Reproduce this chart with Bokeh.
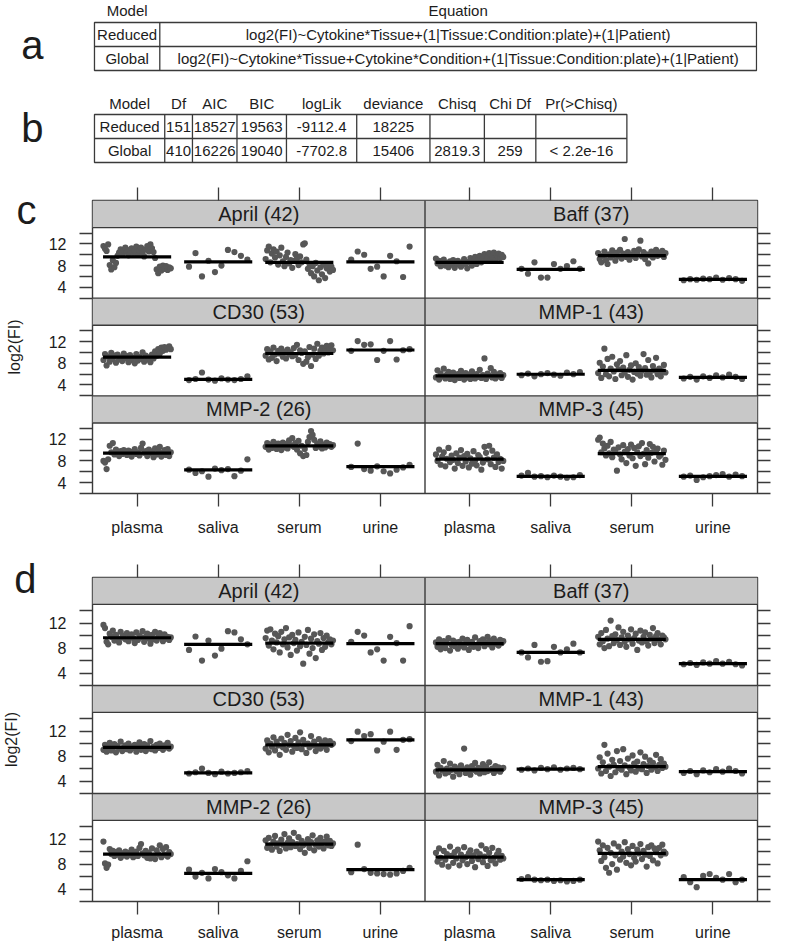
import math
from bokeh.plotting import figure
from bokeh.layouts import column
from bokeh.models import Range1d, LinearAxis, FixedTicker
from bokeh.core.properties import value
from bokeh.embed import file_html
from bokeh.resources import INLINE

FONT = "Liberation Sans"
TXT = "#1c1c1c"
LINE = "#3a3a3a"
DOT = "#575757"
STRIP = "#c8c8c8"

# ---------------- table data ----------------
eq_models = ["Reduced", "Global"]
eq_formulas = ["log2(FI)~Cytokine*Tissue+(1|Tissue:Condition:plate)+(1|Patient)",
               "log2(FI)~Cytokine*Tissue+Cytokine*Condition+(1|Tissue:Condition:plate)+(1|Patient)"]
anova_header = ["Model", "Df", "AIC", "BIC", "logLik", "deviance", "Chisq", "Chi Df", "Pr(>Chisq)"]
anova_reduced = ["Reduced", "151", "18527", "19563", "-9112.4", "18225", "", "", ""]
anova_global = ["Global", "410", "16226", "19040", "-7702.8", "15406", "2819.3", "259", "< 2.2e-16"]

tissues = ["plasma", "saliva", "serum", "urine"]
cytokines = ["April (42)", "Baff (37)", "CD30 (53)", "MMP-1 (43)", "MMP-2 (26)", "MMP-3 (45)"]

# ---------------- panel c data ----------------
c_april_plasma = [11.6, 11.1, 10.7, 11.9, 8.1, 7.3, 9.0, 7.7, 8.5, 9.8, 10.4, 11.0, 10.1, 10.8, 11.3, 10.5, 9.9, 10.9, 11.2, 10.3, 10.7, 11.5, 10.0, 10.8, 11.3, 10.4, 9.7, 11.0, 11.6, 10.6, 11.9, 11.2, 10.5, 9.4, 7.3, 6.6, 7.8, 7.1, 8.0, 7.4, 7.9, 7.2, 7.7, 7.5]
c_april_saliva = [7.8, 10.3, 6.0, 8.9, 6.8, 8.0, 10.9, 10.5, 9.8, 9.1]
c_april_serum = [9.2, 10.8, 11.5, 8.6, 10.2, 11.0, 9.5, 10.6, 8.2, 9.9, 11.3, 8.8, 7.9, 9.6, 10.4, 8.4, 9.0, 7.6, 8.9, 10.1, 9.3, 8.1, 9.7, 8.6, 11.9, 12.1, 9.1, 7.4, 8.3, 6.6, 7.9, 6.0, 8.5, 7.1, 5.3, 7.7, 6.4, 8.2, 5.7, 7.5, 8.0, 6.9, 7.8, 7.2]
c_april_urine = [9.1, 10.6, 10.0, 7.4, 7.8, 6.0, 9.8, 8.8, 5.9, 11.5]
c_fit_april = [9.6, 8.7, 8.6, 8.7]

c_baff_plasma = [9.3, 8.4, 8.9, 7.9, 8.6, 9.1, 8.0, 8.5, 7.7, 8.8, 8.2, 9.0, 7.6, 8.4, 8.9, 8.1, 7.8, 8.6, 9.2, 8.3, 7.5, 8.7, 9.4, 8.0, 8.8, 9.6, 8.3, 9.0, 9.8, 8.6, 9.3, 10.1, 8.9, 9.5, 10.3, 9.1, 9.7, 10.4, 9.0, 9.9, 10.2, 9.4, 10.0, 9.6]
c_baff_saliva = [7.4, 6.5, 8.6, 5.8, 5.8, 8.3, 7.4, 7.9, 8.8, 7.4]
c_baff_serum = [10.3, 9.2, 8.6, 9.8, 10.6, 9.0, 8.3, 10.1, 9.5, 10.8, 9.9, 8.9, 10.4, 9.7, 10.9, 9.3, 10.2, 12.9, 9.6, 10.5, 9.1, 10.0, 9.8, 10.7, 9.4, 10.3, 11.0, 12.6, 9.7, 10.5, 9.2, 10.1, 8.4, 9.9, 10.6, 9.5, 10.2, 10.9, 9.8, 10.4, 10.0, 10.7, 9.6, 10.3]
c_baff_urine = [5.3, 5.5, 5.4, 5.6, 5.5, 5.8, 5.4, 5.7, 5.5, 5.2]
c_fit_baff = [8.6, 7.3, 9.85, 5.45]

c_cd30_plasma = [8.6, 9.7, 7.6, 9.2, 8.3, 9.9, 8.8, 9.4, 8.1, 9.6, 8.7, 9.1, 8.4, 9.8, 8.9, 9.3, 8.2, 9.5, 8.6, 9.0, 8.0, 9.7, 8.5, 9.2, 8.8, 10.0, 8.3, 9.4, 8.7, 9.1, 8.2, 9.6, 8.9, 10.2, 9.4, 10.6, 9.8, 10.9, 10.3, 11.0, 10.5, 10.8, 11.1, 10.6]
c_cd30_saliva = [4.9, 5.1, 6.3, 5.0, 4.8, 5.2, 5.0, 4.9, 5.1, 5.6]
c_cd30_serum = [9.4, 10.6, 8.7, 10.2, 9.0, 10.9, 9.6, 8.4, 10.3, 9.8, 10.7, 9.2, 10.1, 8.9, 10.5, 9.7, 10.0, 9.3, 10.8, 9.5, 11.4, 8.6, 10.4, 9.9, 7.9, 10.2, 8.3, 9.1, 11.0, 7.5, 9.6, 10.7, 8.8, 11.6, 9.4, 10.3, 10.9, 9.8, 10.5, 11.2, 10.0, 10.6, 11.3, 10.4]
c_cd30_urine = [10.3, 12.1, 11.4, 11.5, 8.6, 10.3, 12.1, 8.7, 10.4, 10.6]
c_fit_cd30 = [9.15, 5.05, 9.8, 10.45]

c_mmp1_plasma = [5.4, 6.7, 5.0, 6.1, 5.6, 7.0, 5.2, 5.9, 6.4, 5.1, 5.7, 6.3, 4.9, 5.5, 6.0, 5.3, 6.6, 5.8, 5.0, 6.2, 5.4, 5.9, 5.1, 6.5, 5.6, 5.2, 6.0, 5.5, 6.8, 5.3, 5.8, 8.9, 5.1, 6.1, 5.7, 7.1, 5.4, 6.4, 5.2, 5.9, 5.6, 6.2, 5.3, 5.8]
c_mmp1_saliva = [5.8, 6.1, 5.6, 6.0, 6.2, 5.9, 5.7, 6.3, 6.0, 6.4]
c_mmp1_serum = [6.2, 8.1, 5.3, 7.4, 10.7, 6.0, 8.8, 5.6, 7.0, 9.2, 6.5, 5.1, 7.8, 6.9, 8.4, 5.8, 7.2, 6.3, 9.5, 5.5, 6.8, 7.6, 5.0, 6.4, 8.0, 6.1, 7.3, 5.7, 6.6, 9.7, 7.1, 5.9, 8.6, 6.2, 5.4, 7.5, 6.7, 9.0, 6.0, 7.0, 5.6, 6.5, 7.7, 6.3]
c_mmp1_urine = [5.2, 5.5, 5.0, 5.6, 5.3, 5.8, 5.4, 5.9, 5.5, 5.1]
c_fit_mmp1 = [5.67, 5.98, 6.7, 5.4]

c_mmp2_plasma = [8.0, 7.7, 6.5, 8.3, 10.8, 9.6, 11.3, 9.2, 10.1, 9.5, 8.9, 9.8, 9.3, 10.0, 9.6, 9.1, 9.9, 9.4, 8.8, 9.7, 10.2, 9.3, 9.6, 9.0, 10.4, 11.2, 9.5, 9.8, 8.9, 10.1, 9.4, 9.7, 8.7, 10.3, 9.2, 9.9, 10.6, 8.8, 9.5, 10.0, 9.1, 10.2, 8.9, 9.6]
c_mmp2_saliva = [6.4, 5.8, 6.1, 5.1, 6.6, 6.3, 6.5, 5.2, 6.2, 8.3]
c_mmp2_serum = [10.6, 11.3, 10.1, 11.0, 10.4, 11.5, 10.8, 10.2, 11.2, 10.7, 10.0, 11.4, 10.5, 11.1, 10.3, 11.8, 10.9, 12.2, 10.6, 11.3, 10.1, 11.7, 9.4, 10.8, 8.9, 10.2, 9.1, 11.5, 12.4, 13.5, 12.8, 11.9, 10.4, 11.2, 10.7, 11.6, 10.3, 11.0, 10.5, 11.4, 10.8, 11.1, 10.6, 10.9]
c_mmp2_urine = [6.9, 11.2, 6.5, 6.2, 7.0, 6.1, 5.7, 6.4, 6.8, 7.3]
c_fit_mmp2 = [9.43, 6.37, 10.77, 6.97]

c_mmp3_plasma = [9.2, 8.0, 10.1, 7.3, 8.8, 9.6, 7.0, 8.4, 10.4, 7.8, 9.0, 8.2, 6.6, 9.4, 7.6, 8.6, 10.0, 7.1, 8.9, 7.9, 9.3, 6.8, 8.5, 7.5, 9.8, 8.1, 7.2, 9.1, 8.7, 6.4, 7.7, 10.6, 9.5, 8.3, 10.8, 7.4, 9.9, 8.6, 6.9, 9.2, 7.8, 8.4, 6.6, 8.0]
c_mmp3_saliva = [5.3, 5.8, 5.1, 5.2, 5.0, 5.3, 5.1, 4.9, 5.0, 5.4]
c_mmp3_serum = [11.9, 12.3, 9.6, 11.2, 10.3, 9.0, 10.8, 9.4, 11.5, 8.7, 10.1, 9.8, 6.2, 10.5, 9.2, 8.3, 10.9, 9.7, 7.6, 10.2, 9.0, 11.0, 8.5, 10.4, 7.1, 9.6, 10.7, 8.9, 11.3, 9.3, 7.4, 10.0, 8.6, 11.1, 9.5, 10.6, 7.9, 9.8, 10.3, 8.8, 9.1, 7.3, 9.9, 8.2]
c_mmp3_urine = [5.1, 5.3, 4.5, 5.0, 5.2, 5.4, 5.6, 5.1, 5.5, 5.2]
c_fit_mmp3 = [8.33, 5.14, 9.36, 5.14]

# ---------------- panel d data ----------------
d_april_plasma = [11.7, 11.2, 9.0, 8.6, 10.3, 9.8, 10.8, 9.2, 10.1, 9.5, 8.9, 10.6, 9.7, 10.0, 9.4, 10.4, 9.1, 9.9, 10.2, 9.6, 8.8, 10.5, 9.3, 10.0, 9.7, 10.7, 9.0, 9.8, 10.3, 9.5, 8.7, 10.1, 9.4, 10.6, 9.2, 9.9, 10.4, 9.6, 9.1, 10.2, 9.5, 9.8, 9.3, 9.7]
d_april_saliva = [7.7, 9.85, 6.0, 9.2, 6.8, 7.9, 10.7, 10.5, 9.4, 8.6]
d_april_serum = [9.6, 10.8, 8.4, 11.0, 9.2, 7.8, 10.3, 8.9, 9.9, 7.3, 10.6, 8.6, 9.4, 11.2, 8.1, 9.7, 6.9, 10.1, 8.8, 9.3, 7.6, 10.5, 8.3, 9.0, 5.5, 9.8, 8.5, 10.9, 7.1, 9.5, 8.0, 10.2, 6.4, 9.1, 8.7, 10.4, 7.7, 9.6, 8.2, 10.0, 8.9, 9.4, 8.6, 9.2]
d_april_urine = [9.0, 10.6, 10.0, 7.3, 7.8, 6.0, 9.8, 8.8, 6.0, 11.5]
d_fit_april = [9.65, 8.6, 8.8, 8.7]

d_baff_plasma = [8.9, 8.2, 9.4, 7.8, 8.6, 9.1, 8.0, 8.8, 9.6, 7.6, 8.5, 9.2, 8.3, 8.9, 7.9, 9.0, 8.4, 9.5, 8.1, 8.7, 9.3, 7.7, 8.6, 9.0, 8.2, 9.7, 8.5, 8.0, 9.1, 8.8, 9.4, 8.3, 8.9, 9.8, 8.6, 9.2, 8.1, 9.5, 8.7, 9.0, 8.4, 9.3, 8.8, 9.1]
d_baff_saliva = [7.3, 6.5, 8.5, 5.8, 5.9, 8.2, 7.3, 7.8, 8.7, 7.3]
d_baff_serum = [9.8, 8.6, 10.4, 9.1, 8.0, 10.9, 9.5, 8.3, 12.4, 9.9, 8.8, 10.2, 9.3, 11.3, 8.5, 9.7, 10.6, 9.0, 8.2, 10.0, 9.4, 11.0, 8.7, 9.6, 10.3, 7.7, 9.2, 10.8, 8.9, 9.8, 10.5, 9.1, 8.4, 10.1, 9.5, 11.2, 8.8, 9.9, 10.4, 9.3, 8.6, 10.0, 9.7, 9.4]
d_baff_urine = [5.4, 5.6, 5.3, 5.7, 5.5, 5.9, 5.5, 5.8, 5.4, 5.2]
d_fit_baff = [8.7, 7.3, 9.4, 5.5]

d_cd30_plasma = [9.0, 9.8, 8.7, 9.5, 10.1, 8.9, 9.3, 9.9, 8.6, 9.6, 9.2, 10.3, 8.8, 9.4, 9.7, 9.1, 10.0, 8.9, 9.5, 9.3, 9.8, 8.7, 9.6, 10.2, 9.0, 9.4, 9.9, 8.8, 9.7, 9.2, 10.4, 9.1, 9.5, 8.9, 9.8, 9.3, 10.0, 9.6, 9.0, 9.7, 9.4, 10.1, 9.2, 9.5]
d_cd30_saliva = [5.2, 5.4, 6.0, 5.3, 5.1, 5.5, 5.2, 5.3, 5.4, 5.6]
d_cd30_serum = [9.2, 10.5, 8.6, 10.0, 9.5, 11.0, 8.9, 10.3, 9.7, 8.2, 10.8, 9.4, 10.1, 9.0, 11.4, 9.8, 10.4, 8.7, 9.6, 10.9, 9.3, 10.2, 11.8, 9.1, 10.6, 9.9, 8.5, 10.0, 9.4, 11.2, 9.7, 10.3, 8.8, 9.5, 10.7, 9.2, 10.1, 9.6, 10.5, 9.0, 9.9, 10.4, 9.8, 10.0]
d_cd30_urine = [10.4, 11.9, 11.2, 11.5, 8.9, 10.3, 11.9, 9.0, 10.6, 10.7]
d_fit_cd30 = [9.4, 5.3, 9.8, 10.6]

d_mmp1_plasma = [5.5, 6.6, 4.9, 6.1, 5.7, 7.2, 5.2, 6.0, 5.4, 6.8, 5.8, 4.7, 6.3, 5.6, 6.0, 5.1, 6.5, 5.9, 9.2, 5.3, 6.2, 5.7, 5.0, 6.4, 5.8, 6.9, 5.5, 6.1, 5.2, 5.9, 6.7, 5.4, 6.3, 5.6, 7.0, 5.8, 6.0, 5.3, 6.4, 5.7, 6.2, 5.5, 5.9, 6.1]
d_mmp1_saliva = [5.8, 6.0, 5.7, 6.1, 5.9, 6.2, 5.8, 6.0, 6.1, 5.9]
d_mmp1_serum = [6.0, 7.8, 5.2, 7.0, 9.8, 5.6, 8.4, 6.3, 4.8, 7.4, 6.6, 5.4, 8.8, 6.1, 7.2, 5.8, 9.1, 6.5, 5.1, 7.6, 6.2, 5.7, 8.1, 6.8, 5.5, 7.1, 6.0, 8.6, 5.9, 6.7, 7.9, 5.3, 6.4, 7.3, 5.8, 6.9, 6.2, 8.2, 5.6, 6.6, 7.5, 6.1, 6.8, 6.3]
d_mmp1_urine = [5.3, 5.6, 5.1, 5.7, 5.4, 5.9, 5.5, 6.0, 5.6, 5.2]
d_fit_mmp1 = [5.8, 5.9, 6.3, 5.5]

d_mmp2_plasma = [11.6, 8.1, 7.4, 7.9, 10.4, 9.6, 10.1, 9.3, 9.9, 9.5, 10.2, 9.0, 9.7, 9.4, 10.0, 9.2, 9.8, 9.5, 10.3, 9.1, 9.6, 10.0, 9.3, 10.6, 11.2, 9.7, 9.4, 10.1, 9.0, 9.8, 8.9, 10.5, 9.3, 8.8, 10.2, 9.6, 11.0, 9.1, 10.4, 9.5, 10.7, 9.2, 9.9, 9.6]
d_mmp2_saliva = [7.1, 6.0, 6.6, 5.7, 7.2, 6.7, 6.2, 5.7, 6.9, 8.45]
d_mmp2_serum = [11.8, 10.6, 12.2, 11.0, 10.3, 11.6, 12.5, 10.8, 11.3, 10.1, 11.9, 11.1, 12.8, 10.5, 11.4, 12.1, 10.7, 11.5, 13.0, 10.9, 11.2, 12.3, 10.4, 11.7, 11.0, 9.8, 11.3, 12.0, 10.6, 11.5, 12.6, 10.2, 11.1, 11.8, 10.8, 12.2, 11.4, 10.5, 11.6, 12.4, 11.0, 11.7, 10.9, 11.3]
d_mmp2_urine = [6.7, 11.1, 7.2, 6.6, 6.5, 6.4, 6.3, 6.5, 6.9, 7.4]
d_fit_mmp2 = [9.6, 6.5, 11.2, 7.1]

d_mmp3_plasma = [9.8, 8.4, 10.5, 9.0, 7.9, 10.1, 8.7, 9.6, 7.6, 10.8, 9.3, 8.2, 9.9, 8.9, 10.3, 7.8, 9.5, 8.6, 10.7, 9.1, 8.0, 9.7, 10.2, 8.5, 9.4, 7.5, 10.0, 8.8, 9.6, 11.0, 8.3, 9.2, 10.4, 7.7, 9.8, 8.6, 10.6, 9.0, 8.1, 9.5, 10.1, 8.7, 9.3, 8.9]
d_mmp3_saliva = [5.6, 5.9, 5.5, 5.4, 5.5, 5.3, 5.4, 5.2, 5.3, 5.5]
d_mmp3_serum = [11.6, 10.2, 8.5, 11.0, 9.1, 7.4, 10.6, 6.6, 9.8, 8.0, 11.3, 9.4, 7.1, 10.8, 8.7, 10.0, 9.2, 11.5, 8.2, 10.4, 9.6, 7.8, 10.9, 9.0, 8.4, 10.3, 9.7, 11.2, 8.8, 10.1, 9.5, 7.6, 10.7, 9.3, 11.0, 8.6, 10.5, 9.9, 8.1, 10.6, 9.4, 11.1, 10.0, 9.7]
d_mmp3_urine = [5.9, 5.1, 4.3, 6.1, 6.4, 5.8, 5.5, 6.4, 5.1, 5.5]
d_fit_mmp3 = [9.1, 5.5, 9.7, 5.5]

y_ticks = [2, 4, 6, 8, 10, 12, 14]
y_labelled = [4, 8, 12]

c_series = [
    [c_april_plasma, c_april_saliva, c_april_serum, c_april_urine],
    [c_baff_plasma, c_baff_saliva, c_baff_serum, c_baff_urine],
    [c_cd30_plasma, c_cd30_saliva, c_cd30_serum, c_cd30_urine],
    [c_mmp1_plasma, c_mmp1_saliva, c_mmp1_serum, c_mmp1_urine],
    [c_mmp2_plasma, c_mmp2_saliva, c_mmp2_serum, c_mmp2_urine],
    [c_mmp3_plasma, c_mmp3_saliva, c_mmp3_serum, c_mmp3_urine],
]
c_fits = [c_fit_april, c_fit_baff, c_fit_cd30, c_fit_mmp1, c_fit_mmp2, c_fit_mmp3]
d_series = [
    [d_april_plasma, d_april_saliva, d_april_serum, d_april_urine],
    [d_baff_plasma, d_baff_saliva, d_baff_serum, d_baff_urine],
    [d_cd30_plasma, d_cd30_saliva, d_cd30_serum, d_cd30_urine],
    [d_mmp1_plasma, d_mmp1_saliva, d_mmp1_serum, d_mmp1_urine],
    [d_mmp2_plasma, d_mmp2_saliva, d_mmp2_serum, d_mmp2_urine],
    [d_mmp3_plasma, d_mmp3_saliva, d_mmp3_serum, d_mmp3_urine],
]
d_fits = [d_fit_april, d_fit_baff, d_fit_cd30, d_fit_mmp1, d_fit_mmp2, d_fit_mmp3]

FIG_W = 786
BORDER_L = 85
BORDER_R = 29
FRAME_R = FIG_W - BORDER_R


def letter_axis(ticks, labels, standoff, size="40px"):
    ax = LinearAxis(ticker=FixedTicker(ticks=ticks),
                    major_label_overrides=dict(zip(ticks, labels)))
    ax.axis_line_color = None
    ax.major_tick_line_color = None
    ax.major_tick_in = 0
    ax.major_tick_out = 0
    ax.minor_tick_line_color = None
    ax.major_label_standoff = standoff
    ax.major_label_text_font = FONT
    ax.major_label_text_font_size = size
    ax.major_label_text_color = TXT
    return ax


# ---------------- tables (a, b) ----------------
def tables_figure():
    H = 178
    p = figure(width=FIG_W, height=H, x_range=Range1d(BORDER_L, FRAME_R), y_range=Range1d(H, 0),
               output_backend="svg", toolbar_location=None,
               min_border_left=BORDER_L, min_border_right=BORDER_R,
               min_border_top=0, min_border_bottom=0,
               x_axis_type=None, y_axis_type=None)
    p.outline_line_color = None
    tf = value(FONT)
    fs = value("15px")
    p.add_layout(letter_axis([44, 127], ["a", "b"], 49), "left")
    # table a
    ax = [87, 153, 756]
    ay = [22, 46, 70]
    p.quad(left=[ax[0]], right=[ax[2]], top=[ay[0]], bottom=[ay[2]], fill_color=None,
           line_color=LINE, line_width=1.3)
    p.segment(x0=[ax[0], ax[1]], y0=[ay[1], ay[0]], x1=[ax[2], ax[1]], y1=[ay[1], ay[2]],
              line_color=LINE, line_width=1.3)
    cx = [(ax[0] + ax[1]) / 2, (ax[1] + ax[2]) / 2]
    p.text(x=cx, y=[10, 10], text=["Model", "Equation"], text_font=tf, text_font_size=fs,
           text_align="center", text_baseline="middle", text_color=TXT)
    rows_y = [(ay[0] + ay[1]) / 2, (ay[1] + ay[2]) / 2]
    p.text(x=[cx[0], cx[0]], y=rows_y, text=eq_models, text_font=tf, text_font_size=fs,
           text_align="center", text_baseline="middle", text_color=TXT)
    p.text(x=[cx[1], cx[1]], y=rows_y, text=eq_formulas, text_font=tf, text_font_size=fs,
           text_align="center", text_baseline="middle", text_color=TXT)
    # table b
    bx = [87, 158, 186, 231, 281, 352, 426, 481, 533, 625]
    by = [114, 138, 162]
    p.quad(left=[bx[0]], right=[bx[-1]], top=[by[0]], bottom=[by[2]], fill_color=None,
           line_color=LINE, line_width=1.3)
    p.segment(x0=[bx[0]] + bx[1:-1], y0=[by[1]] + [by[0]] * (len(bx) - 2),
              x1=[bx[-1]] + bx[1:-1], y1=[by[1]] + [by[2]] * (len(bx) - 2),
              line_color=LINE, line_width=1.3)
    bcx = [(bx[i] + bx[i + 1]) / 2 for i in range(len(bx) - 1)]
    p.text(x=bcx, y=[103] * len(bcx), text=anova_header, text_font=tf, text_font_size=fs,
           text_align="center", text_baseline="middle", text_color=TXT)
    brow = [(by[0] + by[1]) / 2, (by[1] + by[2]) / 2]
    p.text(x=bcx, y=[brow[0]] * len(bcx), text=anova_reduced, text_font=tf, text_font_size=fs,
           text_align="center", text_baseline="middle", text_color=TXT)
    p.text(x=bcx, y=[brow[1]] * len(bcx), text=anova_global, text_font=tf, text_font_size=fs,
           text_align="center", text_baseline="middle", text_color=TXT)
    return p


# ---------------- lattice panels (c, d) ----------------
def lattice(series, fits, letter, frame_h, top_b, bottom_b, letter_px, label_standoff):
    strip_px = 27
    panel_px = (frame_h - 3 * strip_px) / 3
    R = 130 + round(10 * strip_px / (panel_px / 13))
    y0, y1 = 20, 20 + 3 * R
    p = figure(width=FIG_W, height=top_b + frame_h + bottom_b,
               x_range=Range1d(4.5, 86.5), y_range=Range1d(y0, y1),
               output_backend="svg", toolbar_location=None,
               x_axis_type=None, y_axis_type=None,
               min_border_left=BORDER_L, min_border_right=BORDER_R,
               min_border_top=top_b, min_border_bottom=bottom_b)
    p.outline_line_color = LINE
    p.outline_line_width = 1.4

    # strips: panel occupies base+20 .. base+150, strip base+150 .. base+20+R
    sl, sr, sb, st, sx, sy = [], [], [], [], [], []
    for idx in range(6):
        r, col = divmod(idx, 2)
        base = (2 - r) * R
        sl.append(4.5 + 41 * col)
        sr.append(45.5 + 41 * col)
        sb.append(base + 150)
        st.append(base + 20 + R)
        sx.append(25 + 41 * col)
        sy.append(base + 150 + (R - 130) / 2)
    p.quad(left=sl, right=sr, bottom=sb, top=st, fill_color=STRIP, line_color=None)
    p.text(x=sx, y=sy, text=cytokines, text_font=value(FONT), text_font_size=value("20px"),
           text_align="center", text_baseline="middle", text_color=TXT)

    # points and fitted levels
    xs, ys = [], []
    mx0, mx1, my = [], [], []
    for idx in range(6):
        r, col = divmod(idx, 2)
        base = (2 - r) * R
        for k, vals in enumerate(series[idx]):
            n = len(vals)
            half = 0.415 if n > 15 else 0.36
            for i, v in enumerate(vals):
                off = -half + 2 * half * i / (n - 1)
                xs.append(10 * (k + 1 + off) + 41 * col)
                ys.append(10 * v + base)
            mx0.append(10 * (k + 1 - 0.42) + 41 * col)
            mx1.append(10 * (k + 1 + 0.42) + 41 * col)
            my.append(10 * fits[idx][k] + base)
    p.scatter(x=xs, y=ys, size=6.2, marker="circle", fill_color=DOT, line_color=None)
    p.segment(x0=mx0, y0=my, x1=mx1, y1=my, line_color="black", line_width=3.2)

    # panel / strip borders
    hy = []
    for r in range(3):
        base = (2 - r) * R
        hy.append(base + 150)
        if r < 2:
            hy.append(base + 20)
    p.segment(x0=[4.5] * len(hy), y0=hy, x1=[86.5] * len(hy), y1=hy, line_color=LINE, line_width=1.4)
    p.segment(x0=[45.5], y0=[y0], x1=[45.5], y1=[y1], line_color=LINE, line_width=1.4)

    # axes
    xt = [10 * (k + 1) + 41 * col for col in range(2) for k in range(4)]
    xover = {10 * (k + 1) + 41 * col: tissues[k] for col in range(2) for k in range(4)}
    yt, yover = [], {}
    for r in range(3):
        base = (2 - r) * R
        for t in y_ticks:
            yt.append(10 * t + base)
            yover[10 * t + base] = str(t) if t in y_labelled else ""

    def style(ax, tick_out, standoff, fsize):
        ax.axis_line_color = None
        ax.major_tick_line_color = LINE
        ax.major_tick_line_width = 1.3
        ax.major_tick_in = 0
        ax.major_tick_out = tick_out
        ax.minor_tick_line_color = None
        ax.major_label_standoff = standoff
        ax.major_label_text_font = FONT
        ax.major_label_text_font_size = fsize
        ax.major_label_text_color = TXT

    below = LinearAxis(ticker=FixedTicker(ticks=xt), major_label_overrides=xover)
    style(below, 13, label_standoff, "16px")
    above = LinearAxis(ticker=FixedTicker(ticks=xt), major_label_overrides={t: "" for t in xt})
    style(above, 13, 0, "0px")
    left = LinearAxis(ticker=FixedTicker(ticks=yt), major_label_overrides=yover)
    style(left, 13, 13, "16px")
    right = LinearAxis(ticker=FixedTicker(ticks=yt), major_label_overrides={t: "" for t in yt})
    style(right, 13, 0, "0px")
    p.add_layout(below, "below")
    p.add_layout(above, "above")
    p.add_layout(left, "left")
    p.add_layout(right, "right")

    # outer left axis: panel letter + y title
    ppy = frame_h / (y1 - y0)
    yc = y1 - round(letter_px / ppy)
    outer = letter_axis([yc], [letter], 9)
    outer.axis_label = "log2(FI)"
    outer.axis_label_standoff = -9
    outer.axis_label_text_font = FONT
    outer.axis_label_text_font_size = "16px"
    outer.axis_label_text_font_style = "normal"
    outer.axis_label_text_color = TXT
    p.add_layout(outer, "left")
    return p


pT = tables_figure()
pc = lattice(c_series, c_fits, "c", frame_h=293, top_b=22, bottom_b=59, letter_px=9, label_standoff=12)
pd = lattice(d_series, d_fits, "d", frame_h=324, top_b=25, bottom_b=42, letter_px=2, label_standoff=9)

layout = column(pT, pc, pd)
open("out.html", "w").write(file_html(layout, INLINE))
